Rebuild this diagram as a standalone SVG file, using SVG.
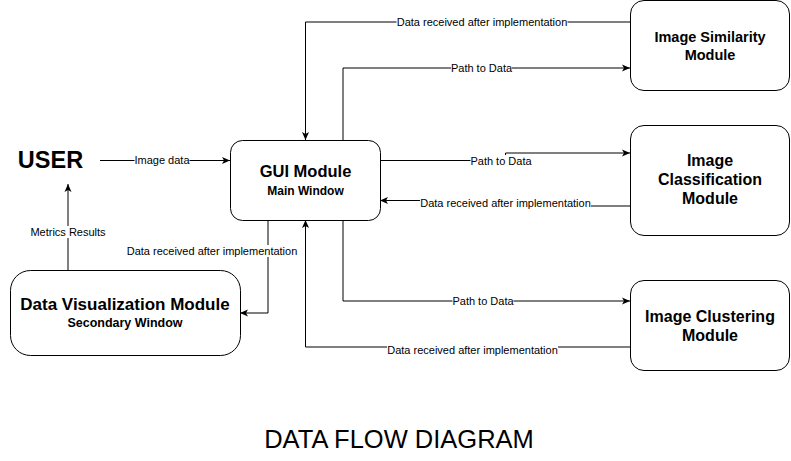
<svg xmlns="http://www.w3.org/2000/svg" width="791" height="461" viewBox="0 0 791 461">
<style>
text{font-family:"Liberation Sans",Arial,Helvetica,sans-serif;fill:#000}
.box{fill:#fff;stroke:#000;stroke-width:1}
.t{font-weight:bold;text-anchor:middle}
.lbl{font-size:11px;text-anchor:middle}
.bg{fill:#fff;stroke:none}
.e{fill:none;stroke:#000;stroke-width:1}
</style>
<defs>
<marker id="arr" markerWidth="10" markerHeight="10" refX="9" refY="5" orient="auto" markerUnits="userSpaceOnUse">
<path d="M1,1.5 L9,5 L1,8.5 L3,5 z" fill="#000"/>
</marker>
</defs>
<rect width="791" height="461" fill="#fff"/>
<g id="connectors">
<path class="e" d="M100,160.5 H230" marker-end="url(#arr)"/>
<path class="e" d="M68,270 V184" marker-end="url(#arr)"/>
<path class="e" d="M268,220 V313 H240" marker-end="url(#arr)"/>
<path class="e" d="M343,140 V68 H630" marker-end="url(#arr)"/>
<path class="e" d="M630,22 H305.5 V140" marker-end="url(#arr)"/>
<path class="e" d="M380,160.5 H505.5 V153 H630" marker-end="url(#arr)"/>
<path class="e" d="M630,206 H505.5 V200.5 H380" marker-end="url(#arr)"/>
<path class="e" d="M343,220 V301 H630" marker-end="url(#arr)"/>
<path class="e" d="M630,347 H305.5 V220" marker-end="url(#arr)"/>
<g id="labels">
<rect class="bg" x="134.5" y="154" width="55" height="12"/>
<text class="lbl" x="162" y="163.5">Image data</text>
<rect class="bg" x="29.5" y="226" width="77" height="12"/>
<text class="lbl" x="68" y="235.5">Metrics Results</text>
<rect class="bg" x="126.5" y="245" width="171" height="12"/>
<text class="lbl" x="212" y="254.5">Data received after implementation</text>
<rect class="bg" x="396.5" y="16" width="171" height="12"/>
<text class="lbl" x="482" y="25.5">Data received after implementation</text>
<rect class="bg" x="451" y="62" width="61" height="12"/>
<text class="lbl" x="481.5" y="71.5">Path to Data</text>
<rect class="bg" x="470.5" y="155" width="61" height="12"/>
<text class="lbl" x="501" y="164.5">Path to Data</text>
<rect class="bg" x="420" y="197.5" width="171" height="12"/>
<text class="lbl" x="505.5" y="207">Data received after implementation</text>
<rect class="bg" x="452.5" y="295" width="61" height="12"/>
<text class="lbl" x="483" y="304.5">Path to Data</text>
<rect class="bg" x="387" y="343" width="171" height="12"/>
<text class="lbl" x="472.5" y="354">Data received after implementation</text>
</g>
</g>
<g id="user">
<text class="t" x="50.5" y="168" font-size="23.5">USER</text>
</g>
<g id="gui">
<rect class="box" x="230.5" y="140.5" width="150" height="80" rx="12"/>
<text class="t" x="305.5" y="177" font-size="16.5">GUI Module</text>
<text class="t" x="305.5" y="194.5" font-size="12">Main Window</text>
</g>
<g id="similarity">
<rect class="box" x="630.5" y="0.5" width="159" height="90" rx="13.5"/>
<text class="t" x="710" y="42" font-size="14.5">Image Similarity</text>
<text class="t" x="710" y="59.5" font-size="14.5">Module</text>
</g>
<g id="classification">
<rect class="box" x="630.5" y="125.5" width="159" height="110" rx="13.5"/>
<text class="t" x="710" y="166" font-size="16">Image</text>
<text class="t" x="710" y="185" font-size="16">Classification</text>
<text class="t" x="710" y="204" font-size="16">Module</text>
</g>
<g id="clustering">
<rect class="box" x="630.5" y="280.5" width="159" height="90" rx="13.5"/>
<text class="t" x="710" y="321.5" font-size="16">Image Clustering</text>
<text class="t" x="710" y="340.5" font-size="16">Module</text>
</g>
<g id="datavis">
<rect class="box" x="10.5" y="270.5" width="230" height="85" rx="20"/>
<text class="t" x="125" y="310" font-size="17">Data Visualization Module</text>
<text class="t" x="125" y="327" font-size="12.5">Secondary Window</text>
</g>
<g id="title">
<text x="399" y="448" font-size="25.5" text-anchor="middle">DATA FLOW DIAGRAM</text>
</g>
</svg>
